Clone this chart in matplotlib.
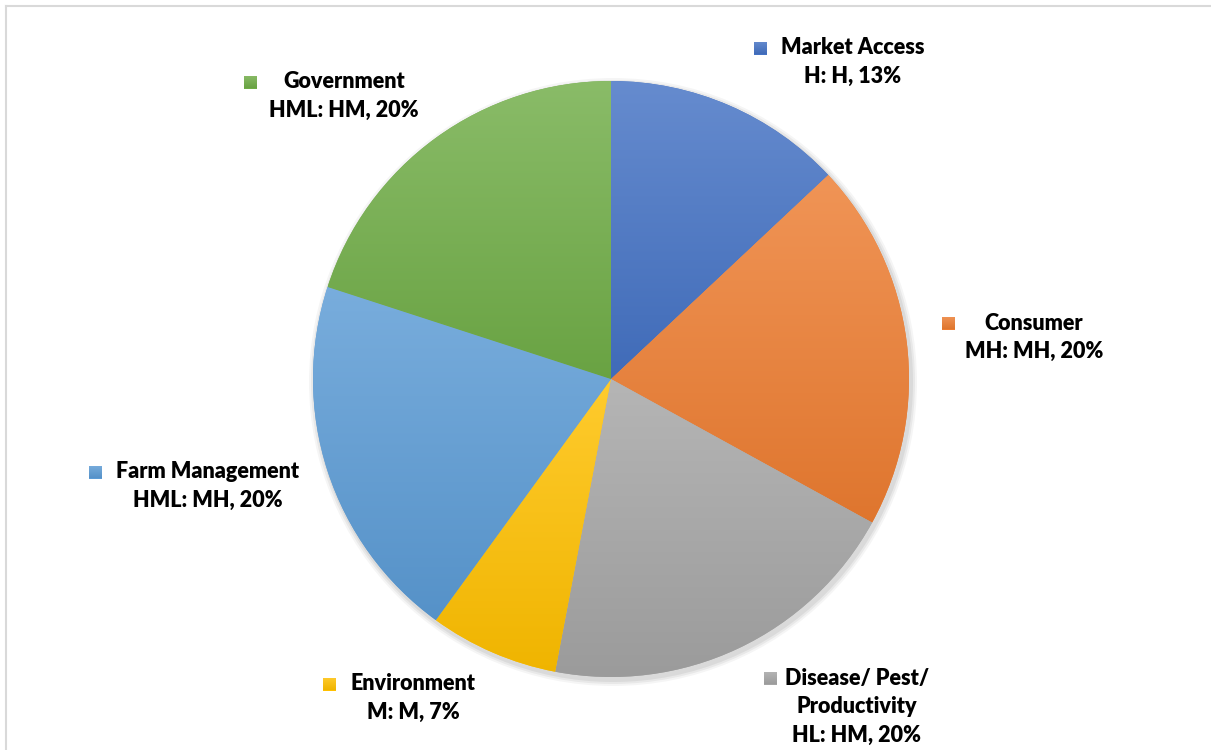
import matplotlib
matplotlib.use("Agg")
import matplotlib.pyplot as plt
import numpy as np
from matplotlib.colors import to_rgb, LinearSegmentedColormap
from matplotlib.patches import Rectangle

# ---- data ----
categories = ["Market Access", "Consumer", "Disease/ Pest/\nProductivity",
              "Environment", "Farm Management", "Government"]
ratings = ["H: H", "MH: MH", "HL: HM", "M: M", "HML: MH", "HML: HM"]
shares = [13, 20, 20, 7, 20, 20]
colors = ["#4472C4", "#ED7D31", "#A5A5A5", "#FFC000", "#5B9BD5", "#70AD47"]

# ---- layout (pixel coords, y measured from top) ----
W, H = 1211, 750
pie_center = (611, 379)
pie_radius = 298
label_pos = [(853, 48), (1034, 323), (857, 678), (413, 684), (208, 472), (344, 82)]
marker_x = [760, 948, 770, 329, 95, 250]

plt.rcParams['font.family'] = ['Lato', 'DejaVu Sans']
fig = plt.figure(figsize=(W / 100, H / 100), dpi=100)
ax = fig.add_axes([0, 0, 1, 1])

wedges, _ = ax.pie(shares, startangle=90, counterclock=False,
                   center=(pie_center[0], H - pie_center[1]), radius=pie_radius,
                   wedgeprops=dict(linewidth=0, edgecolor='none'))
ax.set_xlim(0, W)
ax.set_ylim(0, H)
ax.set_aspect('auto')
ax.axis('off')

# soft shadow behind pie
for i, (dr, a) in enumerate([(6, 0.04), (4, 0.05), (2, 0.06)]):
    c = plt.Circle((pie_center[0] + 2, H - pie_center[1] - 3), pie_radius + dr,
                   color='black', alpha=a, lw=0, zorder=0.5)
    ax.add_patch(c)

def shade(c, f):
    r = np.array(to_rgb(c))
    if f >= 0:
        return tuple(r + (1 - r) * f)
    return tuple(r * (1 + f))

grad = np.linspace(0, 1, 256).reshape(-1, 1)
for w, col in zip(wedges, colors):
    w.set_facecolor(col)
    w.set_zorder(1)
    ext = w.get_path().get_extents(w.get_patch_transform())
    cmap = LinearSegmentedColormap.from_list("g", [shade(col, -0.06), shade(col, 0.18)])
    im = ax.imshow(grad, cmap=cmap, extent=[ext.x0, ext.x1, ext.y0, ext.y1],
                   origin='lower', aspect='auto', zorder=2, interpolation='bilinear')
    im.set_clip_path(w)
ax.set_xlim(0, W)
ax.set_ylim(0, H)

# labels
fs = 15.5
line_h = 28.5
for (cx, cy), mx, cat, rat, sh, col in zip(label_pos, marker_x, categories, ratings, shares, colors):
    lines = cat.split("\n") + [f"{rat}, {sh}%"]
    for k, ln in enumerate(lines):
        ax.text(cx, H - (cy + k * line_h), ln, ha='center', va='center',
                fontsize=fs, fontweight='heavy', color='black', zorder=5)
    ms = 13
    cmap = LinearSegmentedColormap.from_list("m", [shade(col, -0.06), shade(col, 0.18)])
    r = Rectangle((mx - ms / 2, H - cy - ms / 2), ms, ms, lw=0, facecolor=col, zorder=5)
    ax.add_patch(r)
    im = ax.imshow(grad, cmap=cmap, extent=[mx - ms / 2, mx + ms / 2, H - cy - ms / 2, H - cy + ms / 2],
                   origin='lower', aspect='auto', zorder=6)
    im.set_clip_path(r)

# chart frame (right/bottom edges cut off)
ax.plot([6, 6], [0, H - 6], color='#D9D9D9', lw=1.5, zorder=7)
ax.plot([6, W], [H - 6, H - 6], color='#D9D9D9', lw=1.5, zorder=7)
ax.set_xlim(0, W)
ax.set_ylim(0, H)

fig.savefig("out.png", dpi=100)
